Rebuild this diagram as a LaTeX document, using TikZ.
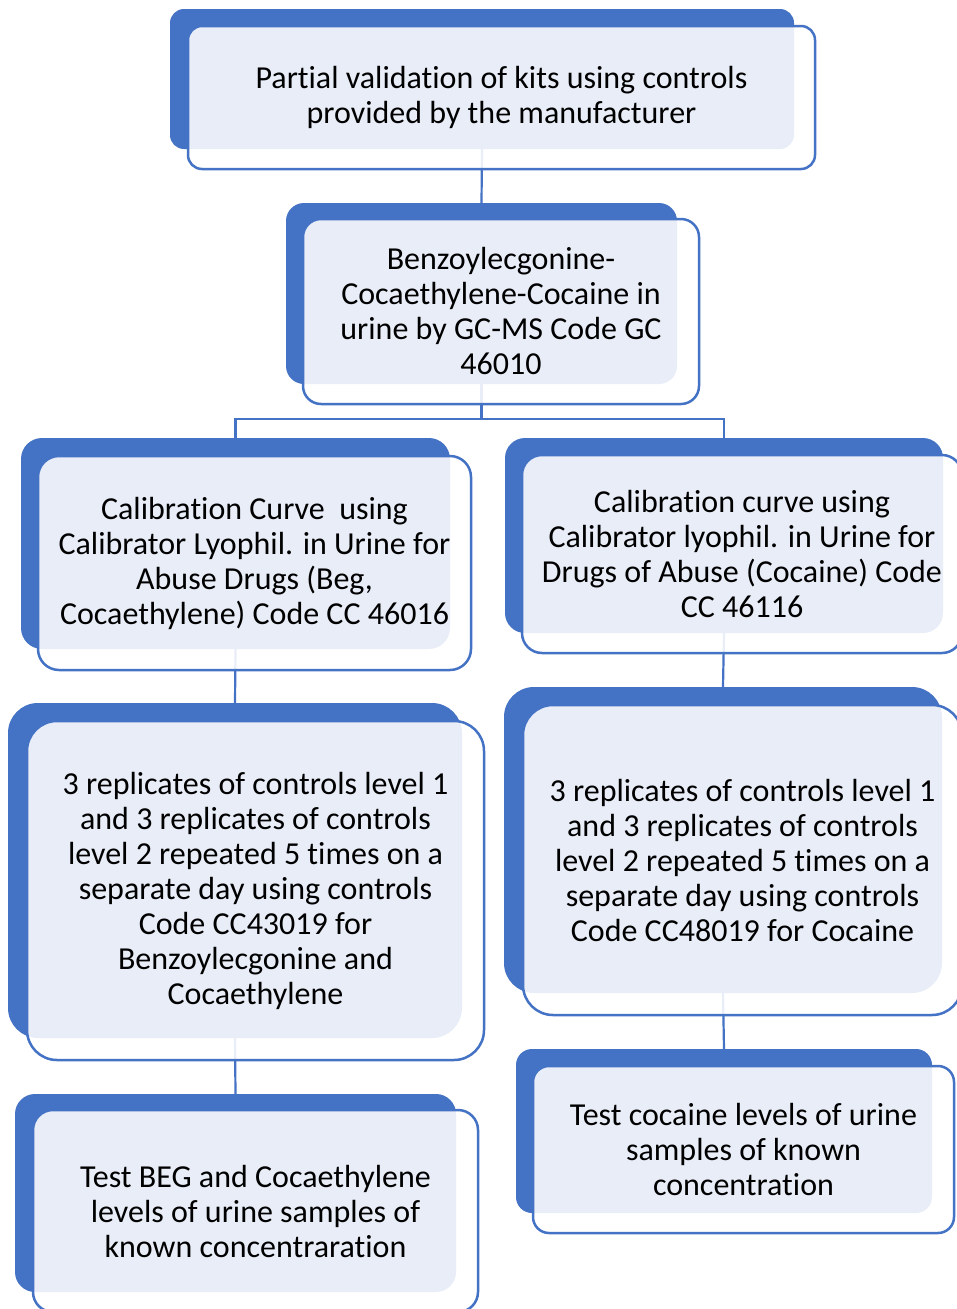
\documentclass[tikz,border=0pt]{standalone}
\usepackage{fontspec}
\setmainfont[Ligatures=NoCommon]{Carlito}
\usetikzlibrary{backgrounds}
\definecolor{accent}{HTML}{4472C4}
\tikzset{
  backbox/.style={fill=accent, draw=none, inner sep=0pt, outer sep=0pt},
  frontbox/.style={draw=accent, line width=2.5pt, fill=white, fill opacity=0.88, text opacity=1,
    inner sep=0pt, outer sep=0pt, align=center, text=black, font=\fontsize{32}{35}\selectfont},
  link/.style={draw=accent, line width=2.2pt}
}
\begin{document}
\begin{tikzpicture}[x=1pt,y=-1pt]
\useasboundingbox (0,0) rectangle (956,1309);
% level 1
\node[backbox, minimum width=624pt, minimum height=140pt, rounded corners=14pt] (a1) at (482,79) {};
\node[frontbox, minimum width=627pt, minimum height=143pt, rounded corners=14pt] (b1) at (501.5,97.5)
  {Partial validation of kits using controls\\provided by the manufacturer};
% level 2
\node[backbox, minimum width=391pt, minimum height=181pt, rounded corners=18pt] (a2) at (481.5,293.5) {};
\node[frontbox, minimum width=396pt, minimum height=185pt, rounded corners=18pt] (b2) at (501,311.5)
  {Benzoylecgonine-\\Cocaethylene-Cocaine in\\urine by GC-MS Code GC\\46010};
% level 3
\node[backbox, minimum width=429pt, minimum height=211pt, rounded corners=21pt] (a3l) at (235.5,543.5) {};
\node[frontbox, minimum width=433pt, minimum height=214pt, rounded corners=21pt] (b3l) at (254.5,563)
  {Calibration Curve\ \ using\\Calibrator Lyophil. in Urine for\\Abuse Drugs (Beg,\\Cocaethylene) Code CC 46016};
\node[backbox, minimum width=438pt, minimum height=195pt, rounded corners=20pt] (a3r) at (724,535.5) {};
\node[frontbox, minimum width=440pt, minimum height=198pt, rounded corners=20pt] (b3r) at (742,554)
  {Calibration curve using\\Calibrator lyophil. in Urine for\\Drugs of Abuse (Cocaine) Code\\CC 46116};
% level 4
\node[backbox, minimum width=454pt, minimum height=335pt, rounded corners=30pt] (a4l) at (235,870.5) {};
\node[frontbox, minimum width=457pt, minimum height=339pt, rounded corners=30pt] (b4l) at (255.5,890.5)
  {3 replicates of controls level 1\\and 3 replicates of controls\\level 2 repeated 5 times on a\\separate day using controls\\Code CC43019 for\\Benzoylecgonine and\\Cocaethylene};
\node[backbox, minimum width=438pt, minimum height=306pt, rounded corners=30pt] (a4r) at (723,840) {};
\node[frontbox, minimum width=439pt, minimum height=310pt, rounded corners=30pt] (b4r) at (742.5,860)
  {3 replicates of controls level 1\\and 3 replicates of controls\\level 2 repeated 5 times on a\\separate day using controls\\Code CC48019 for Cocaine};
% level 5
\node[backbox, minimum width=441pt, minimum height=198pt, rounded corners=20pt] (a5l) at (235.5,1193) {};
\node[frontbox, minimum width=445pt, minimum height=202pt, rounded corners=20pt] (b5l) at (255.5,1211)
  {Test BEG and Cocaethylene\\levels of urine samples of\\known concentraration};
\node[backbox, minimum width=416pt, minimum height=164pt, rounded corners=16pt] (a5r) at (724,1131) {};
\node[frontbox, minimum width=421pt, minimum height=167pt, rounded corners=16pt] (b5r) at (743.5,1149.5)
  {Test cocaine levels of urine\\samples of known\\concentration};
% connectors
\begin{pgfonlayer}{background}
\coordinate (fork) at (a2.south |- 0,419);
\draw[link] (a1.south) -- (a2.north);
\draw[link] (a2.south) -- (fork);
\draw[link] (a3l.north) |- (fork) -| (a3r.north);
\draw[link] (a3l.south) -- (a4l.north);
\draw[link] (a4l.south) -- (a5l.north);
\draw[link] (a3r.south) -- (a4r.north);
\draw[link] (a4r.south) -- (a5r.north);
\end{pgfonlayer}
\end{tikzpicture}
\end{document}
